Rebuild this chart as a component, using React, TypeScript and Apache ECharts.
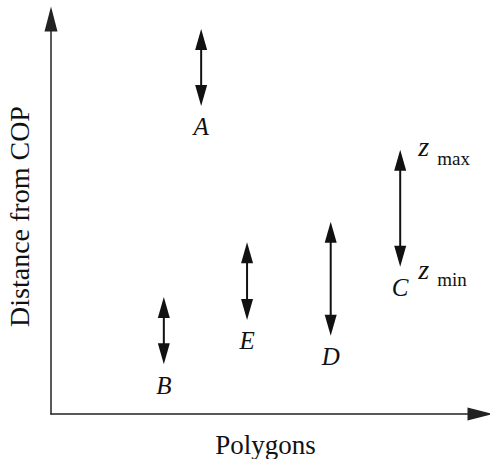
import React, { useEffect, useRef } from "react";
import * as echarts from "echarts";

const polygons = ["A", "B", "C", "D", "E"];
const xPos = [35.0, 26.3, 81.4, 65.2, 45.7];
const zMin = [78.0, 12.6, 37.3, 19.8, 23.8];
const zMax = [97.5, 29.6, 66.9, 48.7, 43.5];
const annotated = "C";
const xAxisName = "Polygons";
const yAxisName = "Distance from COP";

const SERIF = "Liberation Serif";
const INK = "#111";
const ARROW = "path://M0,0 L6.5,25 L-6.5,25 Z";

export default function App() {
  const ref = useRef<HTMLDivElement>(null);
  useEffect(() => {
    if (!ref.current) return;
    const chart = echarts.init(ref.current, null, { renderer: "svg" });
    const data = polygons.map((p, i) => [xPos[i], zMin[i], zMax[i], i]);
    const axisLine = {
      show: true,
      symbol: ["none", ARROW],
      symbolSize: [13, 25],
      lineStyle: { color: "#222", width: 1.5 },
    };
    const option: any = {
      animation: false,
      backgroundColor: "#fff",
      grid: { left: 51, right: 10, top: 19, bottom: 45, outerBoundsMode: "none" },
      xAxis: {
        type: "value",
        min: 0,
        max: 100,
        name: xAxisName,
        nameLocation: "middle",
        nameGap: 17,
        nameTextStyle: { fontFamily: SERIF, fontSize: 27, color: INK, verticalAlign: "top" },
        axisLine,
        axisTick: { show: false },
        axisLabel: { show: false },
        splitLine: { show: false },
      },
      yAxis: {
        type: "value",
        min: 0,
        max: 100,
        name: yAxisName,
        nameLocation: "middle",
        nameGap: 18,
        nameRotate: 90,
        nameTextStyle: { fontFamily: SERIF, fontSize: 28, color: INK },
        axisLine,
        axisTick: { show: false },
        axisLabel: { show: false },
        splitLine: { show: false },
      },
      series: [
        {
          type: "custom",
          data,
          encode: { x: 0, y: [1, 2] },
          renderItem: (params: any, api: any) => {
            const x = api.value(0);
            const lo = api.value(1);
            const hi = api.value(2);
            const idx = api.value(3);
            const pLo = api.coord([x, lo]);
            const pHi = api.coord([x, hi]);
            const hw = 6;
            const hl = 21;
            const children: any[] = [
              {
                type: "line",
                shape: { x1: pLo[0], y1: pLo[1] - hl + 2, x2: pHi[0], y2: pHi[1] + hl - 2 },
                style: { stroke: INK, lineWidth: 2 },
              },
              {
                type: "polygon",
                shape: { points: [[pHi[0], pHi[1]], [pHi[0] - hw, pHi[1] + hl], [pHi[0] + hw, pHi[1] + hl]] },
                style: { fill: INK },
              },
              {
                type: "polygon",
                shape: { points: [[pLo[0], pLo[1]], [pLo[0] - hw, pLo[1] - hl], [pLo[0] + hw, pLo[1] - hl]] },
                style: { fill: INK },
              },
              {
                type: "text",
                x: pLo[0],
                y: pLo[1] + 21,
                style: {
                  text: polygons[idx],
                  fontFamily: SERIF,
                  fontStyle: "italic",
                  fontSize: 25,
                  fill: INK,
                  align: "center",
                  verticalAlign: "middle",
                },
              },
            ];
            if (polygons[idx] === annotated) {
              const zStyle = { fontFamily: SERIF, fontStyle: "italic", fontSize: 28, fill: INK, align: "left", verticalAlign: "middle" };
              const sStyle = { fontFamily: SERIF, fontSize: 19, fill: INK, align: "left", verticalAlign: "middle" };
              children.push(
                { type: "text", x: pHi[0] + 18, y: pHi[1] - 3, style: { ...zStyle, text: "z" } },
                { type: "text", x: pHi[0] + 37, y: pHi[1] + 9, style: { ...sStyle, text: "max" } },
                { type: "text", x: pLo[0] + 18, y: pLo[1] + 3, style: { ...zStyle, text: "z" } },
                { type: "text", x: pLo[0] + 37, y: pLo[1] + 13, style: { ...sStyle, text: "min" } }
              );
            }
            return { type: "group", children };
          },
        },
      ],
    };
    chart.setOption(option);
    return () => chart.dispose();
  }, []);
  return <div ref={ref} style={{ width: 490, height: 459, position: "absolute", left: 0, top: 0 }} />;
}
